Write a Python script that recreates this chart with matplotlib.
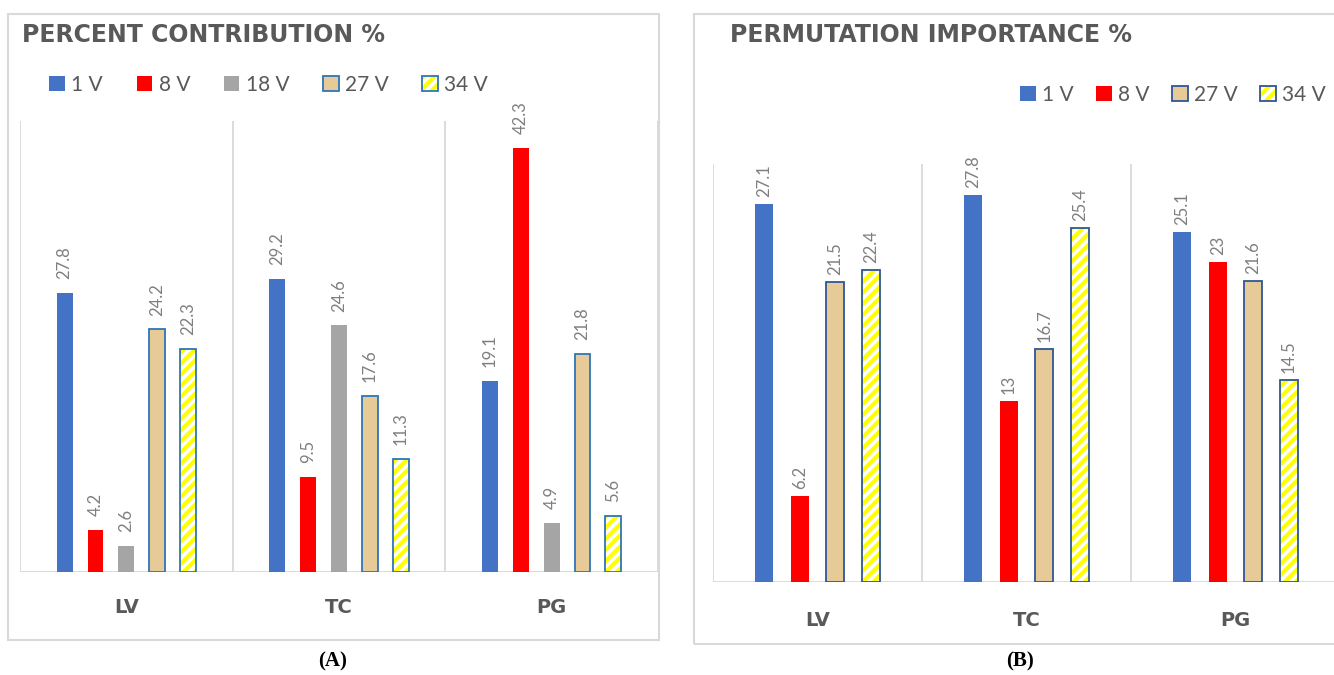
import matplotlib
matplotlib.use("Agg")
import matplotlib.pyplot as plt
from matplotlib.patches import Patch, Rectangle
import numpy as np

plt.rcParams['font.family'] = ['Lato', 'DejaVu Sans']
plt.rcParams['hatch.linewidth'] = 3.0

# ---------------- data ----------------
categories = ["LV", "TC", "PG"]

a_series = ["1 V", "8 V", "18 V", "27 V", "34 V"]
a_1v = [27.8, 29.2, 19.1]
a_8v = [4.2, 9.5, 42.3]
a_18v = [2.6, 24.6, 4.9]
a_27v = [24.2, 17.6, 21.8]
a_34v = [22.3, 11.3, 5.6]

b_series = ["1 V", "8 V", "27 V", "34 V"]
b_1v = [27.1, 27.8, 25.1]
b_8v = [6.2, 13, 23]
b_27v = [21.5, 16.7, 21.6]
b_34v = [22.4, 25.4, 14.5]

title_a = "PERCENT CONTRIBUTION %"
title_b = "PERMUTATION IMPORTANCE %"

# ---------------- styles ----------------
BLUE = "#4472C4"
RED = "#FF0000"
GRAY = "#A5A5A5"
TAN = "#E6CB98"
YELLOW = "#FFFF00"
EDGE_A = "#2E75B6"
EDGE_B = "#2F5597"
TXT = "#595959"
LBL = "#7F7F7F"
GRID = "#D9D9D9"
BOLDFONT = ['DejaVu Sans', 'Lato']

W, H = 1334, 675
fig = plt.figure(figsize=(W / 100, H / 100), dpi=100)


def fx(x):
    return x / W


def fy(y):
    return 1 - y / H


def ax_rect(l, t, r, b):
    return [fx(l), fy(b), fx(r) - fx(l), fy(t) - fy(b)]


# panel boxes
for (l, t, r, b) in [(8, 14, 659, 640), (694, 14, 1345, 644)]:
    fig.add_artist(Rectangle((fx(l), fy(b)), fx(r) - fx(l), fy(t) - fy(b),
                             transform=fig.transFigure, fill=False,
                             edgecolor=GRID, linewidth=1.5))


def style_axes(ax, ymax):
    ax.set_xlim(-0.5, 2.5)
    ax.set_ylim(0, ymax)
    for s in ax.spines.values():
        s.set_visible(False)
    ax.set_yticks([])
    for xv in [-0.5, 0.5, 1.5, 2.5]:
        ax.axvline(xv, color=GRID, lw=1.3, zorder=0)
    ax.axhline(0, color=GRID, lw=1.3, zorder=1)
    ax.set_xticks(range(len(categories)))
    ax.set_xticklabels(categories, fontsize=14, fontweight='bold', color=TXT,
                       family=BOLDFONT)
    ax.tick_params(axis='x', length=0)


def draw_group(ax, series_vals, kinds, width, step, edge, gap_pts):
    n = len(series_vals)
    x = np.arange(len(categories))
    for i, (vals, kind) in enumerate(zip(series_vals, kinds)):
        xs = x + (i - (n - 1) / 2) * step
        if kind == "hatch":
            ax.bar(xs, vals, width, color="white", edgecolor=YELLOW,
                   hatch="///", linewidth=0, zorder=2)
            ax.bar(xs, vals, width, fill=False, edgecolor=edge,
                   linewidth=1.3, zorder=3)
        elif kind == "tan":
            ax.bar(xs, vals, width, color=TAN, edgecolor=edge,
                   linewidth=1.3, zorder=2)
        else:
            ax.bar(xs, vals, width, color=kind, linewidth=0, zorder=2)
        for xv, v in zip(xs, vals):
            ax.annotate(f"{v:g}", (xv, v), xytext=(0, gap_pts),
                        textcoords="offset points", rotation=90,
                        ha="center", va="bottom", fontsize=12, color=LBL)


# ---------------- panel A ----------------
axA = fig.add_axes(ax_rect(20, 121, 658, 572))
style_axes(axA, 45)
axA.tick_params(axis='x', pad=19)
draw_group(axA, [a_1v, a_8v, a_18v, a_27v, a_34v],
           [BLUE, RED, GRAY, "tan", "hatch"], 0.075, 0.145, EDGE_A, 10)

fig.text(fx(22), fy(35), title_a, fontsize=17, fontweight='bold',
         color=TXT, ha='left', va='center', family=BOLDFONT)

hA = [Patch(facecolor=BLUE), Patch(facecolor=RED), Patch(facecolor=GRAY),
      Patch(facecolor=TAN, edgecolor=EDGE_A, linewidth=1.3),
      (Patch(facecolor="white", edgecolor=YELLOW, hatch="///", linewidth=0),
       Patch(fill=False, edgecolor=EDGE_A, linewidth=1.3))]
fig.legend(hA, a_series, loc='center left',
           bbox_to_anchor=(fx(39), fy(85)), ncol=5, frameon=False,
           fontsize=15, labelcolor=TXT, handlelength=0.75, handleheight=0.75,
           handletextpad=0.3, columnspacing=1.62, borderpad=0)

# ---------------- panel B ----------------
axB = fig.add_axes(ax_rect(713, 164, 1340, 582))
style_axes(axB, 30)
axB.tick_params(axis='x', pad=21)
draw_group(axB, [b_1v, b_8v, b_27v, b_34v],
           [BLUE, RED, "tan", "hatch"], 0.087, 0.17, EDGE_B, 5)

fig.text(fx(730), fy(35), title_b, fontsize=17, fontweight='bold',
         color=TXT, ha='left', va='center', family=BOLDFONT)

hB = [Patch(facecolor=BLUE), Patch(facecolor=RED),
      Patch(facecolor=TAN, edgecolor=EDGE_B, linewidth=1.3),
      (Patch(facecolor="white", edgecolor=YELLOW, hatch="///", linewidth=0),
       Patch(fill=False, edgecolor=EDGE_B, linewidth=1.3))]
fig.legend(hB, b_series, loc='center left',
           bbox_to_anchor=(fx(1010), fy(95)), ncol=4, frameon=False,
           fontsize=15, labelcolor=TXT, handlelength=0.75, handleheight=0.75,
           handletextpad=0.3, columnspacing=1.08, borderpad=0)

# captions
fig.text(fx(333), fy(661), "(A)", fontsize=15, fontweight='bold',
         family=['Liberation Serif', 'DejaVu Serif'], ha='center', va='center')
fig.text(fx(1020), fy(661), "(B)", fontsize=15, fontweight='bold',
         family=['Liberation Serif', 'DejaVu Serif'], ha='center', va='center')

fig.savefig("out.png", dpi=100)
